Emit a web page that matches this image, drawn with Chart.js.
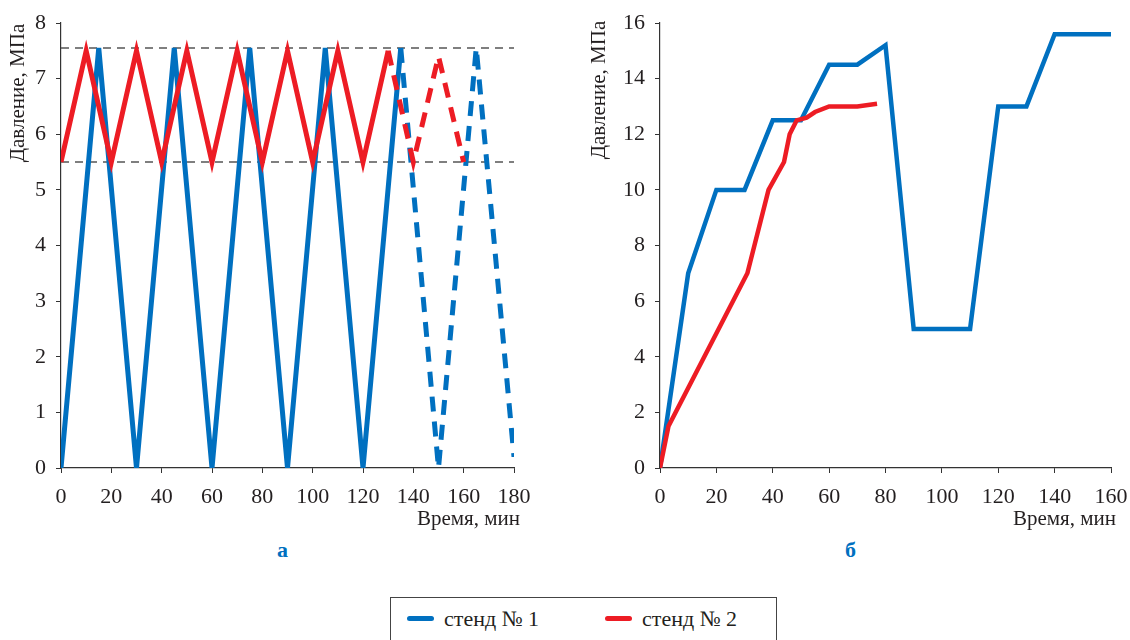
<!DOCTYPE html>
<html>
<head>
<meta charset="utf-8">
<script src="https://cdn.jsdelivr.net/npm/chart.js@4/dist/chart.umd.min.js"></script>
<style>
  body { margin:0; background:#fff; width:1130px; height:640px; position:relative; overflow:hidden;
         font-family:"Times New Roman", "Liberation Serif", "DejaVu Serif", "Noto Serif", serif; color:#231f20; }
  .cv { position:absolute; top:0; }
  .txt { position:absolute; font-size:21px; white-space:nowrap; }
  .ytitle { position:absolute; font-size:21px; white-space:nowrap; transform:rotate(-90deg); transform-origin:center; height:24px; line-height:24px; }
  .sub { position:absolute; font-size:22px; font-weight:bold; color:#0070c0; }
  #legend { position:absolute; left:390px; top:597px; width:387px; height:60px; border:1.5px solid #444; box-sizing:border-box; }
  .li { position:absolute; top:8px; font-size:22px; }
  .sw { display:inline-block; width:27px; height:5px; border-radius:3px; vertical-align:middle; margin-right:10px; position:relative; top:-2px; }
</style>
</head>
<body>
<div class="cv" style="left:0;width:540px;height:520px"><canvas id="chA"></canvas></div>
<div class="cv" style="left:580px;width:550px;height:520px"><canvas id="chB"></canvas></div>

<div class="ytitle" style="left:-63px;top:81px;width:160px;text-align:center">Давление, МПа</div>
<div class="ytitle" style="left:518px;top:78px;width:160px;text-align:center">Давление, МПа</div>
<div class="txt" style="left:417px;top:506px">Время, мин</div>
<div class="txt" style="left:1013px;top:506px">Время, мин</div>
<div class="sub" style="left:277px;top:537px">а</div>
<div class="sub" style="left:845px;top:537px">б</div>

<div id="legend">
  <div class="li" style="left:16px"><span class="sw" style="background:#0070c0"></span>стенд № 1</div>
  <div class="li" style="left:214px"><span class="sw" style="background:#ed1c24"></span>стенд № 2</div>
</div>

<script>
// ---- data, panel a ----
var aTime1 = [0, 15, 30, 45, 60, 75, 90, 105, 120, 135]
var aStand1 = [0, 7.55, 0, 7.55, 0, 7.55, 0, 7.55, 0, 7.55]
var aTime1dash = [135, 150, 165, 180]
var aStand1dash = [7.55, 0, 7.55, 0.2]
var aTime2 = [0, 10, 20, 30, 40, 50, 60, 70, 80, 90, 100, 110, 120, 130]
var aStand2 = [5.5, 7.5, 5.5, 7.5, 5.5, 7.5, 5.5, 7.5, 5.5, 7.5, 5.5, 7.5, 5.5, 7.5]
var aTime2dash = [130, 140, 150, 160]
var aStand2dash = [7.5, 5.5, 7.4, 5.5]
var aLimits = [7.55, 5.5]
var aXTicks = [0, 180, 20]
var aYTicks = [0, 8, 1]

// ---- data, panel b ----
var bTime1 = [0, 10, 20, 30, 40, 50, 60, 70, 80, 90, 110, 120, 130, 140, 160]
var bStand1 = [0, 7, 10, 10, 12.5, 12.5, 14.5, 14.5, 15.2, 5, 5, 13, 13, 15.6, 15.6]
var bTime2 = [0, 3, 31, 38.5, 44, 46, 48.5, 52, 55, 60, 70, 77]
var bStand2 = [0, 1.5, 7, 10, 11, 12, 12.5, 12.6, 12.8, 13, 13, 13.1]
var bXTicks = [0, 160, 20]
var bYTicks = [0, 16, 2]

var blue = "#0070c0"
var red = "#ed1c24"
var serif = "'Times New Roman', 'Liberation Serif', 'DejaVu Serif', 'Noto Serif', serif"
Chart.defaults.font.family = serif
Chart.defaults.color = "#231f20"

function pts(xs, ys){
  return xs.map(function(x, i){ return {x: x, y: ys[i]} })
}

function line(label, xs, ys, color, w, dash, order){
  return {
    label: label, data: pts(xs, ys), borderColor: color, backgroundColor: color,
    borderWidth: w, borderDash: dash || [], pointRadius: 0, tension: 0,
    fill: false, order: order
  }
}

function axes(xt, yt, yWidth){
  var g = { drawOnChartArea: false, drawTicks: true, tickLength: 5, color: "#333", lineWidth: 1 }
  return {
    x: {
      type: "linear", min: xt[0], max: xt[1],
      ticks: { stepSize: xt[2], font: { family: serif, size: 22 }, padding: 11, maxRotation: 0 },
      grid: g, border: { color: "#333", width: 1.2 },
      afterFit: function(s){ s.height = 40; s.paddingLeft = 0; s.paddingRight = 0 }
    },
    y: {
      type: "linear", min: yt[0], max: yt[1],
      ticks: { stepSize: yt[2], font: { family: serif, size: 22 }, padding: 10 },
      grid: g, border: { color: "#333", width: 1.2 },
      afterFit: function(s){ s.width = yWidth; s.paddingTop = 0; s.paddingBottom = 0 }
    }
  }
}

var common = {
  responsive: true, maintainAspectRatio: false, animation: false,
  plugins: { legend: { display: false }, tooltip: { enabled: false } }
}

var guideSets = aLimits.map(function(v){
  return line("limit", [aXTicks[0], aXTicks[1]], [v, v], "#555", 1.4, [8, 6], 5)
})

new Chart(document.getElementById("chA"), {
  type: "line",
  data: {
    datasets: [
      line("стенд № 2", aTime2, aStand2, red, 5, null, 1),
      line("стенд № 2 прогноз", aTime2dash, aStand2dash, red, 5, [15, 10], 2),
      line("стенд № 1", aTime1, aStand1, blue, 5, null, 3),
      line("стенд № 1 прогноз", aTime1dash, aStand1dash, blue, 5, [15, 10], 4)
    ].concat(guideSets)
  },
  options: Object.assign({}, common, {
    layout: { padding: { left: 0, top: 23, right: 26, bottom: 12 } },
    scales: axes(aXTicks, aYTicks, 61)
  })
})

new Chart(document.getElementById("chB"), {
  type: "line",
  data: {
    datasets: [
      line("стенд № 2", bTime2, bStand2, red, 4.5, null, 1),
      line("стенд № 1", bTime1, bStand1, blue, 4.5, null, 2)
    ]
  },
  options: Object.assign({}, common, {
    layout: { padding: { left: 0, top: 23, right: 19, bottom: 12 } },
    scales: axes(bXTicks, bYTicks, 80)
  })
})
</script>
</body>
</html>
